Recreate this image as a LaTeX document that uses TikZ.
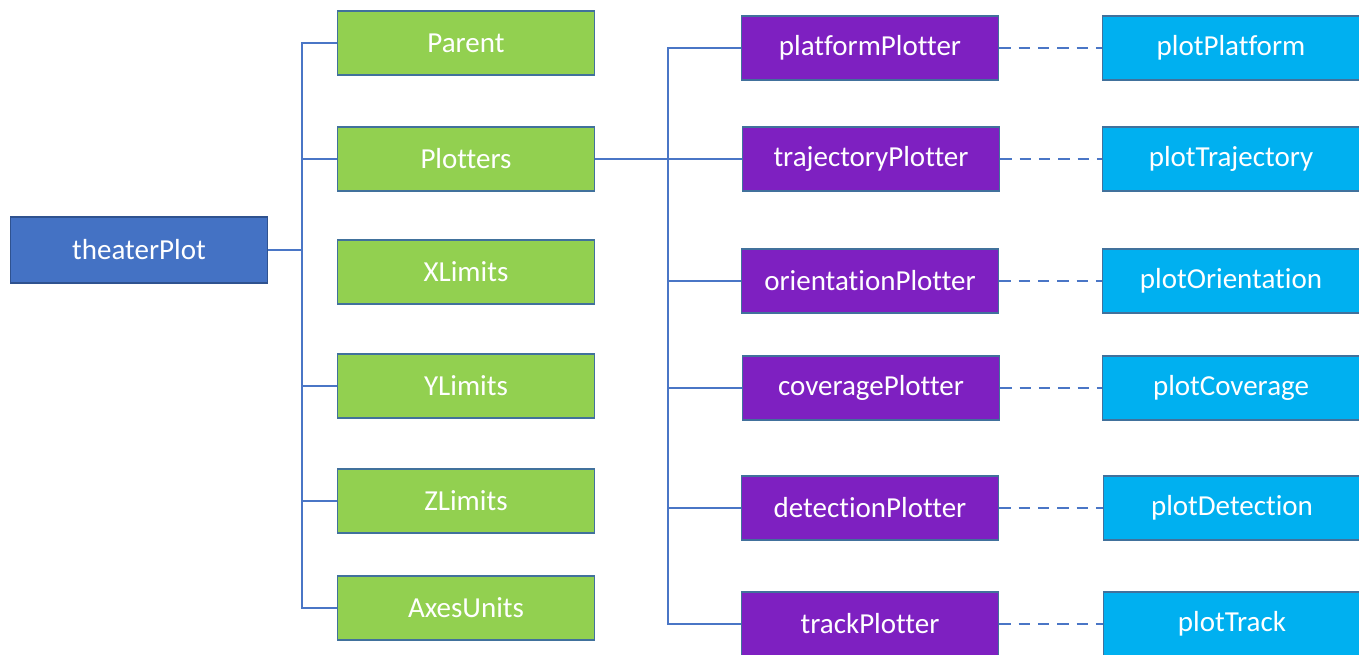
\documentclass[tikz,border=0pt]{standalone}
\usepackage{fontspec}
\setmainfont{Carlito}[Ligatures=NoCommon]
\usetikzlibrary{positioning}
\definecolor{rootblue}{HTML}{4472C4}
\definecolor{rootedge}{HTML}{2F528F}
\definecolor{propgreen}{HTML}{92D050}
\definecolor{plotpurple}{HTML}{7E20C1}
\definecolor{funccyan}{HTML}{00B0F0}
\definecolor{boxedge}{HTML}{41719C}
\definecolor{linkblue}{HTML}{4A76C6}
\tikzset{
  box/.style={rectangle, draw=boxedge, line width=0.9pt, text=white, inner sep=0pt,
    minimum width=5.14cm, minimum height=1.28cm, font=\fontsize{16.5}{19}\selectfont},
  root/.style={box, fill=rootblue, draw=rootedge, minimum height=1.32cm},
  prop/.style={box, fill=propgreen},
  plotter/.style={box, fill=plotpurple},
  func/.style={box, fill=funccyan},
  link/.style={draw=linkblue, line width=1.1pt},
  dashlink/.style={link, dash pattern=on 6.5pt off 4.5pt}
}

\begin{document}
\begin{tikzpicture}[x=0.02cm, y=-0.02cm]
  \useasboundingbox (0,0) rectangle (1359,654);
  \clip (0,0) rectangle (1359,654);

  \node[root] (theater) at (139,250) {theaterPlot};

  \node[prop] (parent)   at (466,43)  {Parent};
  \node[prop] (plotters) at (466,159) {Plotters};
  \node[prop] (xlim)     at (466,272) {XLimits};
  \node[prop] (ylim)     at (466,386) {YLimits};
  \node[prop] (zlim)     at (466,501) {ZLimits};
  \node[prop] (units)    at (466,608) {AxesUnits};

  \node[plotter] (platP) at (870,48)  {platformPlotter};
  \node[plotter] (trajP) at (871,159) {trajectoryPlotter};
  \node[plotter] (oriP)  at (870,281) {orientationPlotter};
  \node[plotter] (covP)  at (871,388) {coveragePlotter};
  \node[plotter] (detP)  at (870,508) {detectionPlotter};
  \node[plotter] (trkP)  at (870,624) {trackPlotter};

  \node[func] (platF) at (1231,48)  {plotPlatform};
  \node[func] (trajF) at (1231,159) {plotTrajectory};
  \node[func] (oriF)  at (1231,281) {plotOrientation};
  \node[func] (covF)  at (1231,388) {plotCoverage};
  \node[func] (detF)  at (1232,508) {plotDetection};
  \node[func] (trkF)  at (1232,624) {plotTrack};

  \coordinate (trunkA) at (302,250);
  \coordinate (trunkB) at (668,159);

  \draw[link] (theater.east) -- (trunkA);
  \draw[link] (trunkA) |- (parent.west);
  \draw[link] (trunkA) |- (plotters.west);
  \draw[link] (trunkA) |- (ylim.west);
  \draw[link] (trunkA) |- (zlim.west);
  \draw[link] (trunkA) |- (units.west);

  \draw[link] (plotters.east) -- (trunkB);
  \draw[link] (trunkB) |- (platP.west);
  \draw[link] (trunkB) |- (trajP.west);
  \draw[link] (trunkB) |- (oriP.west);
  \draw[link] (trunkB) |- (covP.west);
  \draw[link] (trunkB) |- (detP.west);
  \draw[link] (trunkB) |- (trkP.west);

  \draw[dashlink] (platP.east) -- (platF.west);
  \draw[dashlink] (trajP.east) -- (trajF.west);
  \draw[dashlink] (oriP.east)  -- (oriF.west);
  \draw[dashlink] (covP.east)  -- (covF.west);
  \draw[dashlink] (detP.east)  -- (detF.west);
  \draw[dashlink] (trkP.east)  -- (trkF.west);
\end{tikzpicture}
\end{document}
